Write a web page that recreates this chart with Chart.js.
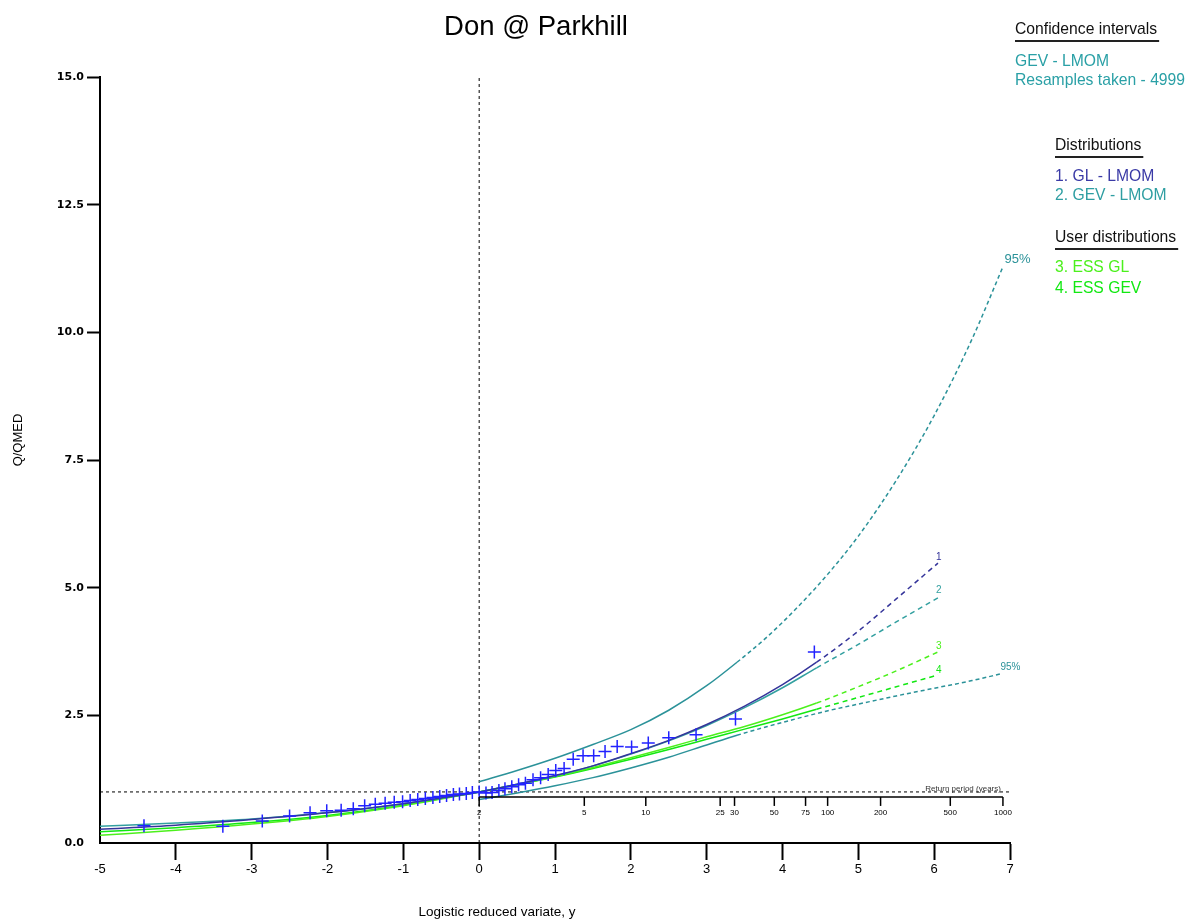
<!DOCTYPE html>
<html><head><meta charset="utf-8">
<script src="https://cdn.jsdelivr.net/npm/chart.js@4.4.1/dist/chart.umd.min.js"></script>
<style>html,body{margin:0;padding:0;background:#fff;}canvas{display:block;}</style>
</head><body>
<canvas id="c" width="1196" height="921"></canvas>
<script>
// ---------- data ----------
const titleText = 'Don @ Parkhill';
const xTitle = 'Logistic reduced variate, y';
const yTitle = 'Q/QMED';

const xTicks = [-5,-4,-3,-2,-1,0,1,2,3,4,5,6,7];
const yTicks = [0,2.5,5,7.5,10,12.5,15];

const distX        = [-5,-4,-3,-2,-1,-0.5,0,0.5,1,1.5,2,2.5,3,3.5,4,4.45,5,5.5,6.05];
const glValues     = [0.27,0.35,0.46,0.59,0.77,0.88,1.00,1.15,1.32,1.51,1.75,2.01,2.32,2.68,3.10,3.54,4.15,4.78,5.48];
const gevValues    = [0.33,0.39,0.47,0.595,0.77,0.88,1.00,1.15,1.31,1.51,1.74,2.00,2.30,2.65,3.04,3.43,3.89,4.33,4.80];
const essGlValues  = [0.15,0.25,0.37,0.52,0.73,0.86,1.00,1.14,1.30,1.48,1.67,1.87,2.08,2.28,2.51,2.74,3.06,3.37,3.74];
const essGevValues = [0.22,0.30,0.40,0.54,0.74,0.87,1.00,1.14,1.29,1.46,1.64,1.83,2.03,2.23,2.43,2.62,2.85,3.06,3.29];
const distSolidEnd = 4.45;

const confX     = [0,0.5,1,1.5,2,2.5,3,3.4,3.8,4.2,4.6,5,5.5,6,6.5,6.9];
const confUpper = [1.20,1.42,1.66,1.93,2.22,2.60,3.08,3.54,4.04,4.62,5.27,6.01,7.10,8.37,9.87,11.26];
const confLower = [0.85,0.98,1.12,1.28,1.47,1.68,1.92,2.11,2.28,2.44,2.59,2.72,2.88,3.03,3.18,3.32];
const confSolidEnd = 3.4;

const obsX = [-4.42,-3.38,-2.86,-2.50,-2.23,-2.01,-1.82,-1.66,-1.51,-1.37,-1.24,-1.12,-1.01,-0.91,-0.81,-0.71,-0.61,-0.52,-0.43,-0.34,-0.26,-0.17,-0.09,0.00,
              0.09,0.17,0.26,0.34,0.43,0.52,0.61,0.71,0.81,0.91,1.01,1.12,1.24,1.37,1.51,1.66,1.82,2.01,2.23,2.50,2.86,3.38,4.42];
const obsY = [0.34,0.33,0.43,0.53,0.59,0.63,0.64,0.67,0.73,0.76,0.78,0.80,0.81,0.83,0.85,0.87,0.89,0.91,0.93,0.95,0.96,0.97,0.99,1.00,
              0.98,0.99,1.03,1.06,1.10,1.14,1.17,1.24,1.28,1.34,1.42,1.46,1.64,1.71,1.71,1.79,1.89,1.88,1.96,2.06,2.12,2.43,3.74];

const returnPeriods = [2,5,10,25,30,50,75,100,200,500,1000];

const legendCI    = ['GEV - LMOM','Resamples taken - 4999'];
const legendDist  = ['1. GL - LMOM','2. GEV - LMOM'];
const legendUser  = ['3. ESS GL','4. ESS GEV'];

// ---------- colours ----------
const C_GL = '#34349a', C_GEV = '#33a0a0', C_ESSGL = '#4cf01c', C_ESSGEV = '#12e812', C_CI = '#2b9299', C_OBS = '#2222ff';
const NARROW = '"Liberation Sans Narrow", "Liberation Sans", Arial, sans-serif';
const SANS = '"Liberation Sans", Arial, sans-serif';

const pts = (xs, ys) => xs.map((v, i) => ({x: v, y: ys[i]}));
const dashAfter = (cut, dash) => ({ borderDash: c => (c.p0.parsed.x >= cut - 1e-6 ? dash : undefined) });

function curve(label, xs, ys, color, cut, dash, order){
  return { label, data: pts(xs, ys), borderColor: color, backgroundColor: color, borderWidth: 1.5,
    pointRadius: 0, fill: false, cubicInterpolationMode: 'monotone', segment: dashAfter(cut, dash), order };
}

const datasets = [
  { label: 'Observed', data: pts(obsX, obsY), showLine: false, pointStyle: 'cross', pointRadius: 6.5,
    pointBorderWidth: 1.5, borderColor: C_OBS, backgroundColor: C_OBS, order: 0 },
  curve('GL - LMOM', distX, glValues, C_GL, distSolidEnd, [5,4], 1),
  curve('GEV - LMOM', distX, gevValues, C_GEV, distSolidEnd, [5,4], 2),
  curve('ESS GL', distX, essGlValues, C_ESSGL, distSolidEnd, [5,4], 3),
  curve('ESS GEV', distX, essGevValues, C_ESSGEV, distSolidEnd, [5,4], 4),
  curve('Upper 95%', confX, confUpper, C_CI, confSolidEnd, [4,3], 5),
  curve('Lower 95%', confX, confLower, C_CI, confSolidEnd, [4,3], 6),
  { label: 'QMED', data: [{x: xTicks[0], y: 1}, {x: xTicks[xTicks.length-1], y: 1}], borderColor: '#000',
    borderWidth: 1, borderDash: [3,3], pointRadius: 0, order: 10 },
  { label: 'T=2', data: [{x: 0, y: yTicks[0]}, {x: 0, y: yTicks[yTicks.length-1]}], borderColor: '#000',
    borderWidth: 1, borderDash: [3,3], pointRadius: 0, order: 11 }
];

const overlay = {
  id: 'overlay',
  beforeDraw(chart){
    const ctx = chart.ctx; ctx.save(); ctx.fillStyle = '#fff'; ctx.fillRect(0,0,chart.width,chart.height); ctx.restore();
  },
  afterDraw(chart){
    const {ctx} = chart; const xs = chart.scales.x, ys = chart.scales.y;
    ctx.save();
    ctx.textBaseline = 'middle';
    // title
    ctx.fillStyle = '#000'; ctx.textAlign = 'center';
    ctx.font = '27.5px ' + SANS; ctx.fillText(titleText, 536, 27);
    // axis titles
    ctx.font = '13.5px ' + NARROW; ctx.fillText(xTitle, 497, 912);
    ctx.save(); ctx.translate(18, 440); ctx.rotate(-Math.PI/2); ctx.font = '13px ' + NARROW; ctx.fillText(yTitle, 0, 0); ctx.restore();

    // return period axis
    const ry = ys.getPixelForValue(1) + 5;
    const rx = T => xs.getPixelForValue(Math.log(T - 1));
    ctx.strokeStyle = '#000'; ctx.lineWidth = 1.5;
    ctx.beginPath(); ctx.moveTo(rx(returnPeriods[0]), ry); ctx.lineTo(rx(returnPeriods[returnPeriods.length-1]), ry); ctx.stroke();
    ctx.font = '8px ' + SANS; ctx.fillStyle = '#000'; ctx.textAlign = 'center';
    returnPeriods.forEach(T => {
      const px = rx(T);
      ctx.beginPath(); ctx.moveTo(px, ry); ctx.lineTo(px, ry + 9); ctx.stroke();
      ctx.fillText(String(T), px, ry + 16);
    });
    ctx.textAlign = 'right'; ctx.font = '8px ' + SANS; ctx.fillStyle = '#333';
    ctx.fillText('Return period (years)', rx(returnPeriods[returnPeriods.length-1]) - 2, ys.getPixelForValue(1) - 3);

    // line end labels
    const endLabel = (txt, xv, yv, color, font, dx, dy) => {
      ctx.fillStyle = color; ctx.font = font; ctx.textAlign = 'left';
      ctx.fillText(txt, xs.getPixelForValue(xv) + dx, ys.getPixelForValue(yv) + dy);
    };
    const last = a => a[a.length-1];
    endLabel('1', last(distX), last(glValues), C_GL, '10px ' + SANS, -2, -6);
    endLabel('2', last(distX), last(gevValues), C_GEV, '10px ' + SANS, -2, -8);
    endLabel('3', last(distX), last(essGlValues), C_ESSGL, '10px ' + SANS, -2, -6);
    endLabel('4', last(distX), last(essGevValues), C_ESSGEV, '10px ' + SANS, -2, -5);
    endLabel('95%', last(confX), last(confUpper), C_CI, '13px ' + SANS, 2, -9);
    endLabel('95%', last(confX), last(confLower), C_CI, '10px ' + SANS, -2, -6);

    // legend
    const LF = '15.7px ' + SANS;
    const head = (txt, x, y) => {
      ctx.fillStyle = '#111'; ctx.font = LF; ctx.textAlign = 'left';
      ctx.fillText(txt, x, y);
      const w = ctx.measureText(txt).width;
      ctx.strokeStyle = '#222'; ctx.lineWidth = 2;
      ctx.beginPath(); ctx.moveTo(x, y + 11); ctx.lineTo(x + w + 2, y + 11); ctx.stroke();
    };
    const item = (txt, x, y, color) => { ctx.fillStyle = color; ctx.font = LF; ctx.textAlign = 'left'; ctx.fillText(txt, x, y); };
    head('Confidence intervals', 1015, 30);
    item(legendCI[0], 1015, 62, '#2aa0a6');
    item(legendCI[1], 1015, 81, '#2aa0a6');
    head('Distributions', 1055, 146);
    item(legendDist[0], 1055, 177, '#3a3aa6');
    item(legendDist[1], 1055, 196, '#2e9ea2');
    head('User distributions', 1055, 238);
    item(legendUser[0], 1055, 268, '#4cf01c');
    item(legendUser[1], 1055, 289, '#12e812');
    ctx.restore();
  }
};

new Chart(document.getElementById('c'), {
  type: 'line',
  data: { datasets },
  plugins: [overlay],
  options: {
    responsive: false, animation: false, devicePixelRatio: 1,
    layout: { padding: { left: 0, right: 186, top: 77, bottom: 0 } },
    plugins: { legend: { display: false }, title: { display: false }, tooltip: { enabled: false } },
    scales: {
      x: {
        type: 'linear', min: xTicks[0], max: xTicks[xTicks.length-1],
        afterFit: s => { s.height = 78; },
        afterBuildTicks: s => { s.ticks = xTicks.map(v => ({value: v})); },
        border: { display: true, color: '#000', width: 2 },
        grid: { drawOnChartArea: false, drawTicks: true, tickLength: 17, tickWidth: 2,
                tickColor: c => (c.tick && c.tick.value === xTicks[0] ? 'rgba(0,0,0,0)' : '#000') },
        ticks: { padding: 2, color: '#000', font: { family: NARROW, size: 13 }, callback: v => String(v), maxRotation: 0 }
      },
      y: {
        type: 'linear', min: yTicks[0], max: yTicks[yTicks.length-1],
        afterFit: s => { s.width = 100; },
        afterBuildTicks: s => { s.ticks = yTicks.map(v => ({value: v})); },
        border: { display: true, color: '#000', width: 2 },
        grid: { drawOnChartArea: false, drawTicks: true, tickLength: 13, tickWidth: 2,
                tickColor: c => (c.tick && c.tick.value === yTicks[0] ? 'rgba(0,0,0,0)' : '#000') },
        ticks: { padding: 3, color: '#000', font: { family: '"DejaVu Sans", sans-serif', size: 11, weight: 'bold' },
                 callback: v => Number(v).toFixed(1) }
      }
    }
  }
});
</script>
</body></html>
